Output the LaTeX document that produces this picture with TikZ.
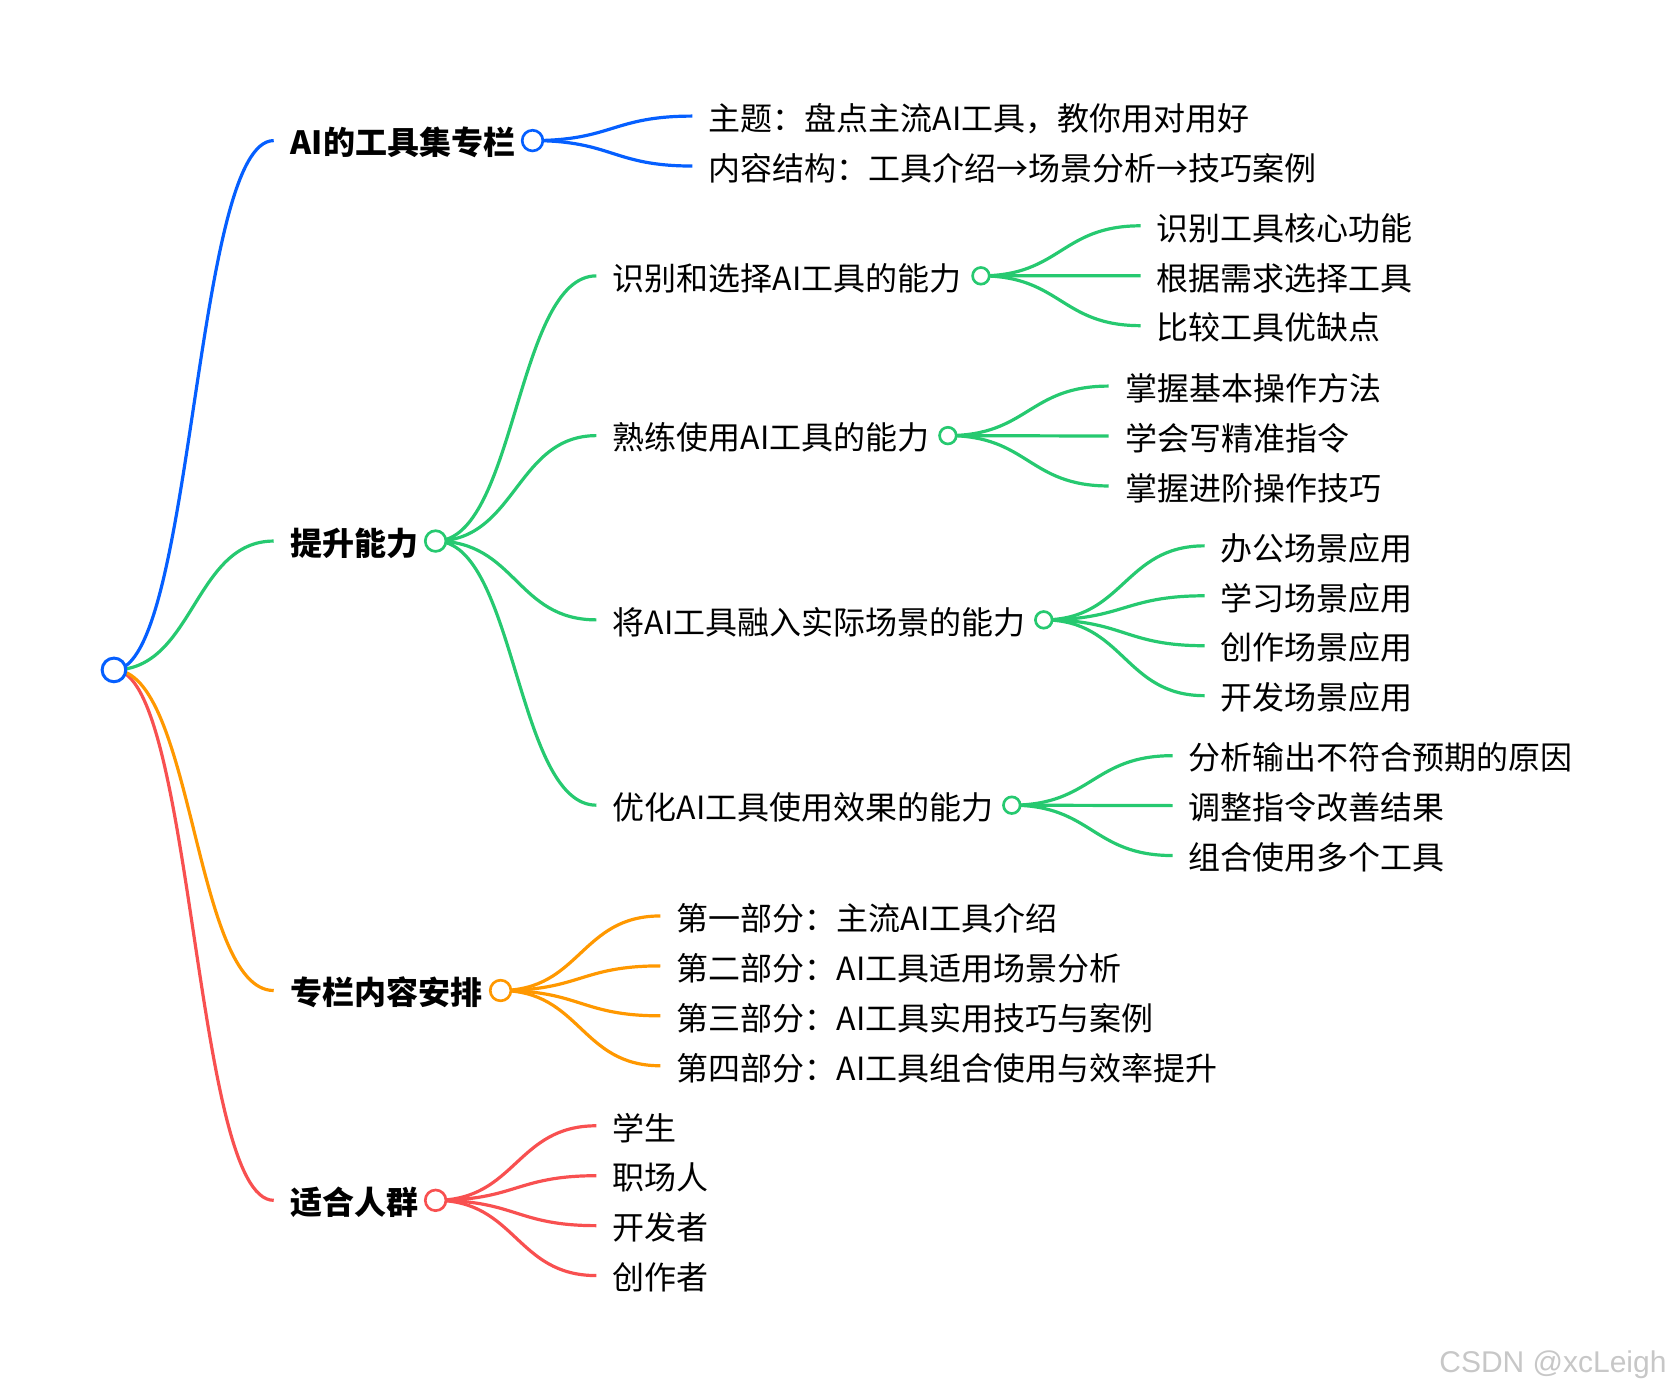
\documentclass[tikz,border=0pt]{standalone}
\usepackage{fontspec}
\setmainfont{Noto Sans CJK SC}
\newfontfamily\markfont{Liberation Sans}
\usetikzlibrary{positioning,calc,backgrounds}
\definecolor{mblue}{RGB}{5,95,255}
\definecolor{mgreen}{RGB}{38,201,112}
\definecolor{morange}{RGB}{255,152,0}
\definecolor{mred}{RGB}{248,80,80}
\begin{document}
\begin{tikzpicture}[
  x=0.7987pt, y=-0.7987pt,
  basic/.style   = {rectangle, inner ysep=0pt, inner xsep=12pt, anchor=west, text height=24.4pt, text depth=3pt, font=\fontsize{24}{24}\selectfont},
  top/.style     = {basic, inner xsep=12.6pt, font=\fontsize{24}{24}\selectfont\bfseries},
  leaf/.style    = {basic},
  nextleaf/.style= {below=37.45pt of #1.west, anchor=west},
  dot/.style     = {circle, draw=#1, fill=white, line width=2pt, inner sep=0pt, minimum size=15.5pt},
  smalldot/.style= {dot=#1, minimum size=12.5pt},
  link/.style    = {draw=#1, line width=2.4pt, to path={
      let \p1=(\tikztostart), \p2=(\tikztotarget), \n1={(\x1+\x2)/2} in
      .. controls (\n1,\y1) and (\n1,\y2) .. (\tikztotarget)}}]
  \useasboundingbox (0,0) rectangle (1568,1307);

  % root of the tree
  \node[dot=mblue, minimum size=17.75pt, line width=2.25pt] (r) at (107,629) {};

  % the first level
  \node[top] (c1) at (257,132) {AI的工具集专栏};
  \node[dot=mblue] (d1) at (500,132) {};
  \node[top] (c2) at (257,508) {提升能力};
  \node[dot=mgreen] (d2) at (409,508) {};
  \node[top] (c3) at (257,930) {专栏内容安排};
  \node[dot=morange] (d3) at (470,930) {};
  \node[top] (c4) at (257,1127) {适合人群};
  \node[dot=mred] (d4) at (409,1127) {};

  % children of the first branch
  \node[leaf] (c11) at (650,109) {主题：盘点主流AI工具，教你用对用好};
  \node[leaf, nextleaf=c11] (c12) {内容结构：工具介绍→场景分析→技巧案例};

  % the second level of the second branch
  \node[leaf] (c21) at (560,259) {识别和选择AI工具的能力};
  \node[smalldot=mgreen] (d21) at (921,259) {};
  \node[leaf] (c22) at (560,409) {熟练使用AI工具的能力};
  \node[smalldot=mgreen] (d22) at (890,409) {};
  \node[leaf] (c23) at (560,582) {将AI工具融入实际场景的能力};
  \node[smalldot=mgreen] (d23) at (980,582) {};
  \node[leaf] (c24) at (560,756) {优化AI工具使用效果的能力};
  \node[smalldot=mgreen] (d24) at (950,756) {};

  % the third level of the second branch
  \node[leaf] (c211) at (1071,212) {识别工具核心功能};
  \node[leaf, nextleaf=c211] (c212) {根据需求选择工具};
  \node[leaf, nextleaf=c212] (c213) {比较工具优缺点};

  \node[leaf] (c221) at (1041,362.5) {掌握基本操作方法};
  \node[leaf, nextleaf=c221] (c222) {学会写精准指令};
  \node[leaf, nextleaf=c222] (c223) {掌握进阶操作技巧};

  \node[leaf] (c231) at (1131,512.5) {办公场景应用};
  \node[leaf, nextleaf=c231] (c232) {学习场景应用};
  \node[leaf, nextleaf=c232] (c233) {创作场景应用};
  \node[leaf, nextleaf=c233] (c234) {开发场景应用};

  \node[leaf] (c241) at (1101,709.5) {分析输出不符合预期的原因};
  \node[leaf, nextleaf=c241] (c242) {调整指令改善结果};
  \node[leaf, nextleaf=c242] (c243) {组合使用多个工具};

  % children of the third branch
  \node[leaf] (c31) at (620,860) {第一部分：主流AI工具介绍};
  \node[leaf, nextleaf=c31] (c32) {第二部分：AI工具适用场景分析};
  \node[leaf, nextleaf=c32] (c33) {第三部分：AI工具实用技巧与案例};
  \node[leaf, nextleaf=c33] (c34) {第四部分：AI工具组合使用与效率提升};

  % children of the fourth branch
  \node[leaf] (c41) at (560,1057) {学生};
  \node[leaf, nextleaf=c41] (c42) {职场人};
  \node[leaf, nextleaf=c42] (c43) {开发者};
  \node[leaf, nextleaf=c43] (c44) {创作者};

  % watermark
  \node[anchor=base east, inner sep=0pt, text=black!22, font=\markfont\fontsize{22.5}{24}\selectfont] (w) at (1565,1289) {CSDN @xcLeigh};

  % lines from each node to every one of its children, under the circles
  \begin{scope}[on background layer]
  \draw[link=mred] (r.center) to (c4.west);
  \draw[link=morange] (r.center) to (c3.west);
  \draw[link=mgreen] (r.center) to (c2.west);
  \draw[link=mblue] (r.center) to (c1.west);

  \foreach \value in {1,...,2}
    \draw[link=mblue] (d1.center) to (c1\value.west);

  \foreach \value in {1,...,4}
    \draw[link=mgreen] (d2.center) to (c2\value.west);

  \foreach \value in {1,...,3}
    \draw[link=mgreen] (d21.center) to (c21\value.west);

  \foreach \value in {1,...,3}
    \draw[link=mgreen] (d22.center) to (c22\value.west);

  \foreach \value in {1,...,4}
    \draw[link=mgreen] (d23.center) to (c23\value.west);

  \foreach \value in {1,...,3}
    \draw[link=mgreen] (d24.center) to (c24\value.west);

  \foreach \value in {1,...,4}
    \draw[link=morange] (d3.center) to (c3\value.west);

  \foreach \value in {1,...,4}
    \draw[link=mred] (d4.center) to (c4\value.west);
  \end{scope}
\end{tikzpicture}
\end{document}
